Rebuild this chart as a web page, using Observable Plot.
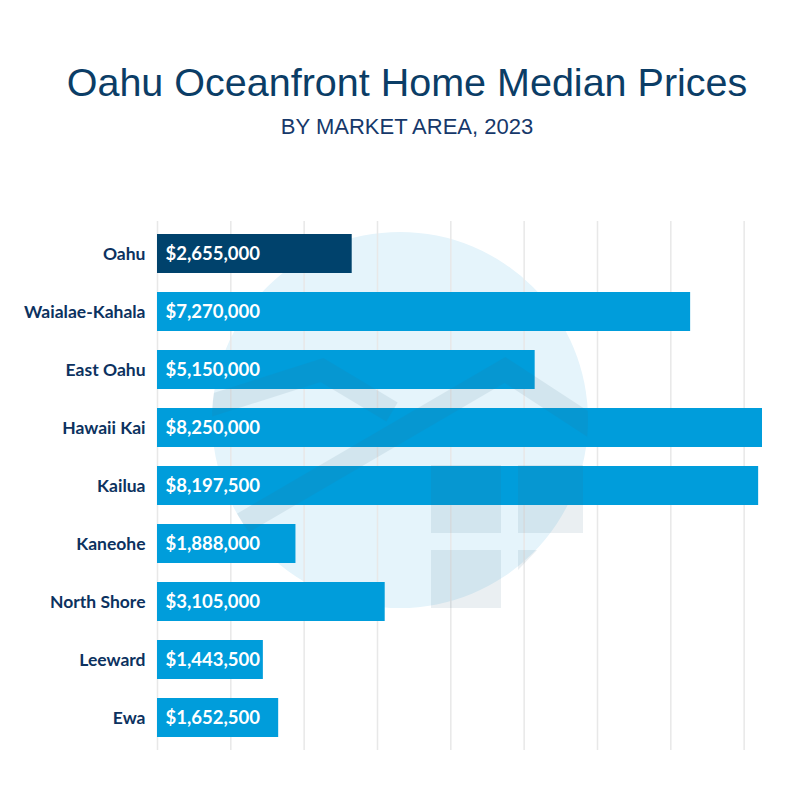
<!DOCTYPE html>
<html>
<head>
<meta charset="utf-8">
<script src="https://cdn.jsdelivr.net/npm/d3@7"></script>
<script src="https://cdn.jsdelivr.net/npm/@observablehq/plot@0.6"></script>
<style>
  html, body { margin: 0; padding: 0; background: #ffffff; }
  #page { position: relative; width: 800px; height: 800px; overflow: hidden; background: #fff; }
  #title { position: absolute; left: 7px; width: 800px; top: 62px; text-align: center;
    font-family: "Liberation Sans", Arial, sans-serif; font-size: 39.5px; line-height: 40px; color: #0b3d66; }
  #subtitle { position: absolute; left: 7px; width: 800px; top: 116px; text-align: center;
    font-family: "Liberation Sans", Arial, sans-serif; font-size: 22px; line-height: 22px; color: #16386a; }
  #chart { position: absolute; left: 0; top: 200px; }
</style>
</head>
<body>
<div id="page">
  <div id="title">Oahu Oceanfront Home Median Prices</div>
  <div id="subtitle">BY MARKET AREA, 2023</div>
  <div id="chart"></div>
</div>
<script>
const areas = ["Oahu", "Waialae-Kahala", "East Oahu", "Hawaii Kai", "Kailua", "Kaneohe", "North Shore", "Leeward", "Ewa"];
const prices = [2655000, 7270000, 5150000, 8250000, 8197500, 1888000, 3105000, 1443500, 1652500];
const gridTicks = [0, 1000000, 2000000, 3000000, 4000000, 5000000, 6000000, 7000000, 8000000];

const data = areas.map((a, i) => ({area: a, price: prices[i]}));
const fmt = d3.format("$,");

const plot = Plot.plot({
  width: 800,
  height: 600,
  marginLeft: 157,
  marginRight: 38,
  marginTop: 21,
  marginBottom: 50,
  style: {fontFamily: "Lato, 'Open Sans', sans-serif", background: "transparent"},
  x: {domain: [0, 8250000], axis: null},
  y: {domain: areas, range: [11, 560], padding: 0.336, label: null},
  marks: [
    Plot.ruleX(gridTicks, {stroke: "#e8e8e8", strokeWidth: 1.5}),
    Plot.barX(data, {x: "price", y: "area", fill: d => d.area === "Oahu" ? "#00426c" : "#009ddb"}),
    Plot.text(data, {x: 0, y: "area", text: d => fmt(d.price), dx: 8, textAnchor: "start",
      fill: "white", fontWeight: "bold", fontSize: 18.5}),
    Plot.axisY({tickSize: 0, tickPadding: 12, fontSize: 17.5, fontWeight: "bold", fill: "#0c3260", label: null})
  ]
});
document.getElementById("chart").appendChild(plot);

// Faint logo watermark (decoration) — page coords shifted by chart top (200)
const svg = d3.select(plot);
const oy = 200;
const cx = 400, cy = 420 - oy, r = 188;
const defs = svg.insert("defs", ":first-child");
defs.append("clipPath").attr("id", "wmclip").append("circle").attr("cx", cx).attr("cy", cy).attr("r", r);
svg.insert("circle", "defs + *").attr("cx", cx).attr("cy", cy).attr("r", r).attr("fill", "#e5f4fb");
const wm = svg.append("g").attr("fill", "#3a6a85").attr("opacity", 0.1).style("pointer-events", "none");
const chev = wm.append("g").attr("clip-path", "url(#wmclip)").attr("fill", "none").attr("stroke", "#3a6a85")
  .attr("stroke-width", 22).attr("stroke-linejoin", "miter");
chev.append("polyline").attr("points", [[190, 412 - oy], [322, 370 - oy], [392, 412 - oy]].map(p => p.join(",")).join(" "));
chev.append("polyline").attr("points", [[200, 548 - oy], [505, 370 - oy], [640, 458 - oy]].map(p => p.join(",")).join(" "));
wm.append("rect").attr("x", 431).attr("y", 465 - oy).attr("width", 70).attr("height", 68);
wm.append("rect").attr("x", 518).attr("y", 465 - oy).attr("width", 65).attr("height", 68);
wm.append("rect").attr("x", 431).attr("y", 550 - oy).attr("width", 70).attr("height", 58);
wm.append("polygon").attr("points", [[518, 550 - oy], [537, 550 - oy], [518, 570 - oy]].map(p => p.join(",")).join(" "));
</script>
</body>
</html>
